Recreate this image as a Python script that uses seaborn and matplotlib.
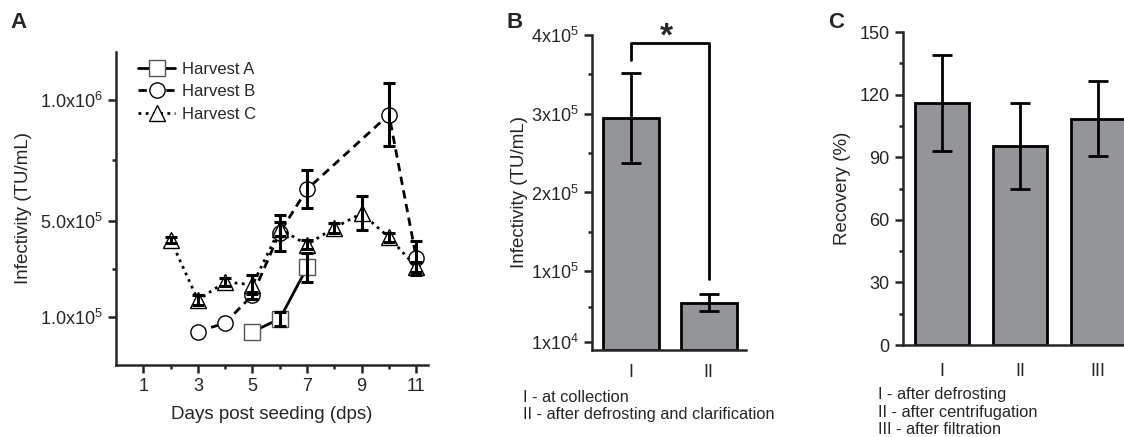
import numpy as np
import pandas as pd
import matplotlib
matplotlib.use('Agg')
import matplotlib.pyplot as plt
import seaborn as sns

# %%
# data
days_a = [5, 6, 7]
harvest_a = [3.8e4, 9.2e4, 3.05e5]
harvest_a_err = [0, 3e4, 6e4]

days_b = [3, 4, 5, 6, 7, 10, 11]
harvest_b = [3.8e4, 7.5e4, 1.9e5, 4.5e5, 6.3e5, 9.4e5, 3.45e5]
harvest_b_err = [0, 0, 1.5e4, 7.5e4, 8e4, 1.3e5, 7e4]

days_c = [2, 3, 4, 5, 6, 7, 8, 9, 10, 11]
harvest_c = [4.2e5, 1.7e5, 2.45e5, 2.33e5, 4.65e5, 4.0e5, 4.7e5, 5.3e5, 4.3e5, 3.07e5]
harvest_c_err = [1.2e4, 2e4, 1.5e4, 4e4, 3e4, 2e4, 2e4, 7e4, 2e4, 2e4]

steps_b = ['I', 'II']
infect_b = [2.95e5, 6.0e4]
infect_b_err = [5.7e4, 1.05e4]

steps_c = ['I', 'II', 'III']
recovery_c = [116, 95.5, 108.5]
recovery_c_err = [23, 20.5, 18]

a_yticks = [1e5, 5e5, 1e6]
a_yticklabels = [r'1.0x10$^{5}$', r'5.0x10$^{5}$', r'1.0x10$^{6}$']
b_yticks = [1e4, 1e5, 2e5, 3e5, 4e5]
b_yticklabels = [r'1x10$^{4}$', r'1x10$^{5}$', r'2x10$^{5}$', r'3x10$^{5}$', r'4x10$^{5}$']

# %%
sns.set_style('ticks')
plt.rcParams['font.family'] = ['Liberation Sans', 'DejaVu Sans']
plt.rcParams['mathtext.fontset'] = 'custom'
plt.rcParams['mathtext.rm'] = 'Liberation Sans'
plt.rcParams['mathtext.it'] = 'Liberation Sans'
plt.rcParams['mathtext.default'] = 'regular'
plt.rcParams['axes.linewidth'] = 1.8
plt.rcParams['xtick.major.width'] = 1.8
plt.rcParams['ytick.major.width'] = 1.8
plt.rcParams['xtick.minor.width'] = 1.8
plt.rcParams['ytick.minor.width'] = 1.8

fs_tick = 13
fs_lab = 13.5
fs_cap = 11.8
grey = '#939598'

fig = plt.figure(figsize=(11.24, 4.37), dpi=100)
ax_a = fig.add_axes([0.1032, 0.1648, 0.2776, 0.7162])
ax_b = fig.add_axes([0.5267, 0.1991, 0.137, 0.7208])
ax_c = fig.add_axes([0.8034, 0.2105, 0.2082, 0.716])

# %%
# panel A
series = [
    ('Harvest A', days_a, harvest_a, harvest_a_err, 's', '-', '#555555'),
    ('Harvest B', days_b, harvest_b, harvest_b_err, 'o', (0, (3, 2)), 'black'),
    ('Harvest C', days_c, harvest_c, harvest_c_err, '^', (0, (1, 1.6)), 'black'),
]
for name, d, v, e, m, ls, mec in series:
    df = pd.DataFrame({'day': d, 'val': v, 'err': e})
    sns.lineplot(data=df, x='day', y='val', ax=ax_a, color='black', lw=2,
                 linestyle=ls, marker=m, markersize=11, markerfacecolor='white',
                 markeredgecolor=mec, markeredgewidth=1.0, label=name)
    # points without a visible error bar are left out
    eb = df[df['err'] > 0]
    ax_a.errorbar(eb['day'], eb['val'], yerr=eb['err'], fmt='none', ecolor='black',
                  elinewidth=2.2, capsize=4, capthick=2.2, zorder=3)

ax_a.set_xlim(0, 11.43)
ax_a.set_ylim(-1e5, 1.2e6)
ax_a.set_xticks([1, 3, 5, 7, 9, 11])
ax_a.set_xticks([2, 4, 6, 8, 10], minor=True)
ax_a.set_yticks(a_yticks)
ax_a.set_yticklabels(a_yticklabels)
ax_a.set_yticks([3e5, 7.5e5], minor=True)
ax_a.tick_params(which='major', length=6, labelsize=fs_tick)
ax_a.tick_params(which='minor', length=3)
ax_a.set_xlabel('Days post seeding (dps)', fontsize=fs_lab, labelpad=8)
ax_a.set_ylabel('Infectivity (TU/mL)', fontsize=fs_lab, labelpad=6)
sns.despine(ax=ax_a)
ax_a.legend(loc='upper left', frameon=False, fontsize=12, handlelength=2.2,
            handletextpad=0.4, labelspacing=0.45, borderaxespad=0.0,
            bbox_to_anchor=(0.05, 0.99))

# %%
# panel B
df_b = pd.DataFrame({'step': steps_b, 'val': infect_b})
sns.barplot(data=df_b, x='step', y='val', ax=ax_b, color=grey, width=0.72,
            edgecolor='black', linewidth=2, saturation=1, errorbar=None)
ax_b.errorbar(range(len(steps_b)), infect_b, yerr=infect_b_err, fmt='none',
              ecolor='black', elinewidth=2, capsize=7, capthick=2)
ax_b.plot([0, 0, 1, 1], [3.68e5, 3.9e5, 3.9e5, 0.9e5], color='black', lw=2,
          clip_on=False)
ax_b.text(0.46, 3.98e5, '*', ha='center', va='center', fontsize=24,
          fontweight='bold', clip_on=False)
ax_b.set_xlim(-0.5, 1.48)
ax_b.set_ylim(0, 4e5)
ax_b.set_yticks(b_yticks)
ax_b.set_yticklabels(b_yticklabels)
ax_b.set_yticks([5.5e4, 1.5e5, 2.5e5, 3.5e5], minor=True)
ax_b.tick_params(axis='y', which='major', length=6, labelsize=fs_tick)
ax_b.tick_params(axis='y', which='minor', length=3)
ax_b.tick_params(axis='x', length=0, labelsize=fs_tick, pad=10)
ax_b.set_xlabel('')
ax_b.set_ylabel('Infectivity (TU/mL)', fontsize=fs_lab, labelpad=2)
sns.despine(ax=ax_b)

# %%
# panel C
df_c = pd.DataFrame({'step': steps_c, 'val': recovery_c})
sns.barplot(data=df_c, x='step', y='val', ax=ax_c, color=grey, width=0.7,
            edgecolor='black', linewidth=2, saturation=1, errorbar=None)
ax_c.errorbar(range(len(steps_c)), recovery_c, yerr=recovery_c_err, fmt='none',
              ecolor='black', elinewidth=2, capsize=7, capthick=2)
ax_c.set_xlim(-0.5, 2.5)
ax_c.set_ylim(0, 150)
ax_c.set_yticks([0, 30, 60, 90, 120, 150])
ax_c.set_yticks([15, 45, 75, 105, 135], minor=True)
ax_c.tick_params(axis='y', which='major', length=6, labelsize=fs_tick)
ax_c.tick_params(axis='y', which='minor', length=3)
ax_c.tick_params(axis='x', length=0, labelsize=fs_tick, pad=13)
ax_c.set_xlabel('')
ax_c.set_ylabel('Recovery (%)', fontsize=fs_lab, labelpad=6)
sns.despine(ax=ax_c)

# %%
# captions and panel letters
fig.text(523 / 1124, 1 - 397 / 437, 'I - at collection', fontsize=fs_cap, va='center')
fig.text(523 / 1124, 1 - 415 / 437, 'II - after defrosting and clarification',
         fontsize=fs_cap, va='center')
fig.text(878 / 1124, 1 - 394 / 437, 'I - after defrosting', fontsize=fs_cap, va='center')
fig.text(878 / 1124, 1 - 412 / 437, 'II - after centrifugation', fontsize=fs_cap, va='center')
fig.text(878 / 1124, 1 - 430 / 437, 'III - after filtration', fontsize=fs_cap, va='center')

for letter, x in [('A', 10), ('B', 507), ('C', 828)]:
    fig.text(x / 1124, 1 - 22 / 437, letter, fontsize=16, fontweight='bold',
             va='center')

fig.savefig('out.png', dpi=100)
